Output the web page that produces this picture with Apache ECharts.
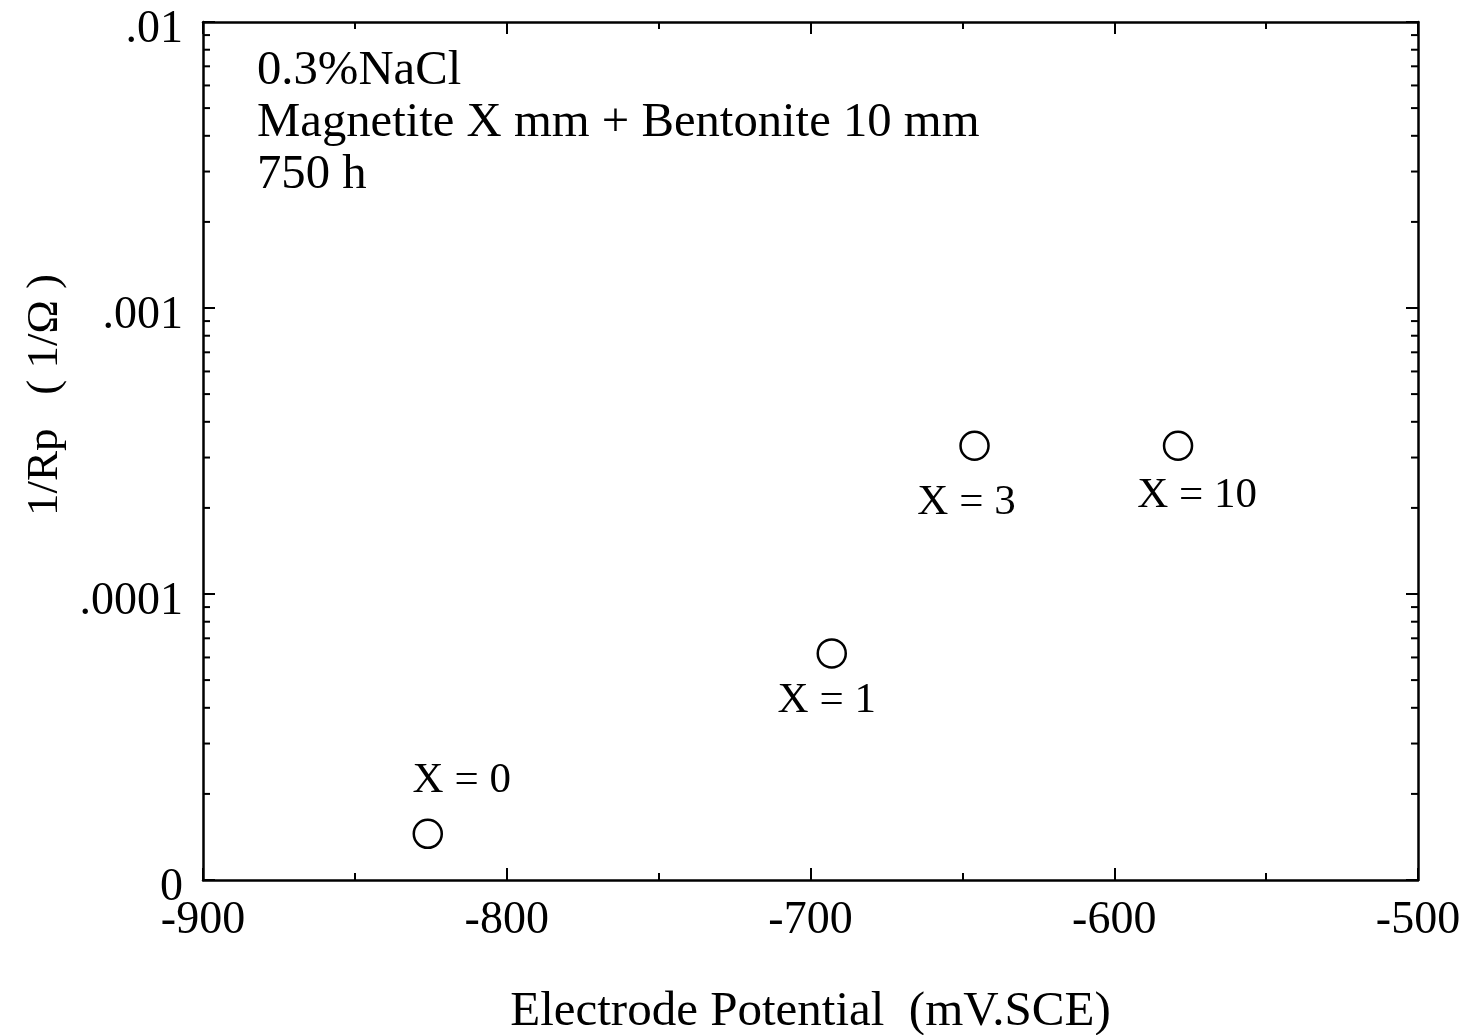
<!DOCTYPE html>
<html>
<head>
<meta charset="utf-8">
<script src="https://cdn.jsdelivr.net/npm/echarts@6/dist/echarts.min.js"></script>
<style>
  html, body { margin: 0; padding: 0; background: #fff; }
  #chart { width: 1469px; height: 1035px; }
</style>
</head>
<body>
<div id="chart"></div>
<script>
// Measured points: electrode potential (mV vs SCE) and 1/Rp (1/ohm)
var pointNames = ['X = 0', 'X = 1', 'X = 3', 'X = 10'];
var potential = [-826, -693, -646, -579];
var inverseRp = [1.45e-5, 6.2e-5, 3.3e-4, 3.3e-4];

// Axis ranges and tick labels
var xMin = -900, xMax = -500, xStep = 100;
var yMin = 1e-5, yMax = 1e-2;
var yTickValues = [1e-5, 1e-4, 1e-3, 1e-2];
var yTickText = ['0', '.0001', '.001', '.01'];
// Logarithmic minor ticks (2..9 per decade)
var yMinorTicks = [2e-5, 3e-5, 4e-5, 5e-5, 6e-5, 7e-5, 8e-5, 9e-5,
                   2e-4, 3e-4, 4e-4, 5e-4, 6e-4, 7e-4, 8e-4, 9e-4,
                   2e-3, 3e-3, 4e-3, 5e-3, 6e-3, 7e-3, 8e-3, 9e-3];

// Annotation text
var noteLines = ['0.3%NaCl', 'Magnetite X mm + Bentonite 10 mm', '750 h'];
var xTitle = 'Electrode Potential  (mV.SCE)';
var yTitle = '1/Rp   ( 1/\u03A9 )';

// Label placement relative to each marker (pixels)
var labelOffsets = [[34, -53], [-5, 47], [-8, 57], [19, 50]];

var FONT = '"Liberation Serif", "Times New Roman", serif';
var INK = '#000';

function yLabel(v) {
  for (var i = 0; i < yTickValues.length; i++) {
    if (Math.abs(Math.log10(v) - Math.log10(yTickValues[i])) < 1e-6) return yTickText[i];
  }
  return '';
}

var points = potential.map(function (x, i) {
  return {
    value: [x, inverseRp[i]],
    name: pointNames[i],
    label: { offset: labelOffsets[i] }
  };
});

var axisLine = { show: true, lineStyle: { color: INK, width: 2.5 } };

var chart = echarts.init(document.getElementById('chart'), null, { renderer: 'canvas' });
chart.setOption({
  backgroundColor: '#fff',
  animation: false,
  grid: { left: 203, top: 22, right: 51, bottom: 155, containLabel: false, outerBoundsMode: 'none' },
  xAxis: [{
    type: 'value', position: 'bottom',
    min: xMin, max: xMax, interval: xStep,
    axisLine: axisLine,
    axisTick: { show: true, inside: true, length: 12, lineStyle: { color: INK, width: 2 } },
    minorTick: { show: true, splitNumber: 2, length: 7, lineStyle: { color: INK, width: 2 } },
    splitLine: { show: false },
    axisLabel: { color: INK, fontFamily: FONT, fontSize: 46, margin: 18 },
    name: xTitle, nameLocation: 'middle', nameGap: 108,
    nameTextStyle: { color: INK, fontFamily: FONT, fontSize: 49 }
  }, {
    type: 'value', position: 'top',
    min: xMin, max: xMax, interval: xStep,
    axisLine: axisLine,
    axisTick: { show: true, inside: true, length: 12, lineStyle: { color: INK, width: 2 } },
    minorTick: { show: true, splitNumber: 2, length: 7, lineStyle: { color: INK, width: 2 } },
    splitLine: { show: false },
    axisLabel: { show: false }
  }],
  yAxis: [{
    type: 'log', logBase: 10, position: 'left',
    min: yMin, max: yMax,
    axisLine: axisLine,
    axisTick: { show: true, inside: true, length: 12, lineStyle: { color: INK, width: 2 } },
    splitLine: { show: false },
    axisLabel: {
      color: INK, fontFamily: FONT, fontSize: 46, margin: 20,
      verticalAlign: 'top', lineHeight: 16,
      formatter: yLabel
    }
  }, {
    type: 'log', logBase: 10, position: 'right',
    min: yMin, max: yMax,
    axisLine: axisLine,
    axisTick: { show: true, inside: true, length: 12, lineStyle: { color: INK, width: 2 } },
    splitLine: { show: false },
    axisLabel: { show: false }
  }],
  graphic: [{
    type: 'text', left: 257, top: 45, silent: true,
    style: {
      text: noteLines.join('\n'), fill: INK,
      font: '48.7px ' + FONT, lineHeight: 52
    }
  }, {
    type: 'text', x: 45, y: 395, rotation: Math.PI / 2, silent: true,
    style: {
      text: yTitle, fill: INK, font: '45px ' + FONT,
      align: 'center', verticalAlign: 'middle'
    }
  }],
  series: [{
    // log-scale minor ticks on the left and right frame
    type: 'custom', silent: true, xAxisIndex: 0, yAxisIndex: 0, clip: false,
    data: yMinorTicks.map(function (v) { return [xMin, v]; }),
    renderItem: function (params, api) {
      var cs = params.coordSys;
      var y = api.coord([xMin, api.value(1)])[1];
      var st = { stroke: INK, lineWidth: 2 };
      return {
        type: 'group',
        children: [
          { type: 'line', shape: { x1: cs.x, y1: y, x2: cs.x + 7, y2: y }, style: st },
          { type: 'line', shape: { x1: cs.x + cs.width - 7, y1: y, x2: cs.x + cs.width, y2: y }, style: st }
        ]
      };
    }
  }, {
    type: 'scatter', xAxisIndex: 0, yAxisIndex: 0,
    symbol: 'circle', symbolSize: 28,
    itemStyle: { color: '#fff', borderColor: INK, borderWidth: 2.5, opacity: 1 },
    label: {
      show: true, position: 'inside', color: INK,
      fontFamily: FONT, fontSize: 43,
      formatter: function (p) { return p.name; }
    },
    data: points
  }]
});
</script>
</body>
</html>
